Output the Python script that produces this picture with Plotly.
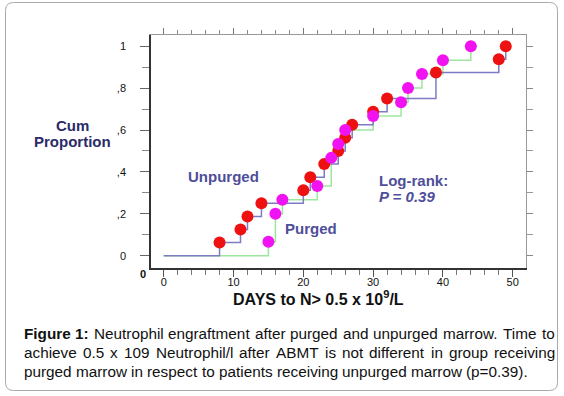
import plotly.graph_objects as go

# ---- data ----
unpurged_days = [8, 11, 12, 14, 20, 21, 23, 25, 26, 27, 30, 32, 39, 48, 49]
unpurged_prop = [0.0625, 0.125, 0.1875, 0.25, 0.3125, 0.375, 0.4375, 0.5, 0.5625,
                 0.625, 0.6875, 0.75, 0.875, 0.9375, 1.0]
purged_days = [15, 16, 17, 22, 24, 25, 26, 30, 34, 35, 37, 40, 44]
purged_prop = [0.067, 0.2, 0.267, 0.333, 0.467, 0.533, 0.6, 0.667, 0.733, 0.8,
               0.867, 0.933, 1.0]
x_tick_vals = [0, 10, 20, 30, 40, 50]
x_minor_vals = [2, 4, 6, 8, 12, 14, 16, 18, 22, 24, 26, 28, 32, 34, 36, 38, 42, 44, 46, 48]
y_tick_vals = [0, 0.2, 0.4, 0.6, 0.8, 1.0]
y_tick_text = ["0", ",2", ",4", ",6", ",8", "1"]
y_minor_vals = [0.1, 0.3, 0.5, 0.7, 0.9]

W, H = 564, 396
def px(x):
    return x / W
def py(y):
    return 1 - y / H

RED = "#ee1111"
MAG = "#f012f0"
BLUE_LINE = "#7c7cc4"
GREEN_LINE = "#9ee69e"
LABEL = "#4e4e9a"

fig = go.Figure()
fig.add_trace(go.Scatter(x=[0] + purged_days, y=[0] + purged_prop, mode="lines",
                         line=dict(color=GREEN_LINE, width=1.5, shape="hv"),
                         hoverinfo="skip", showlegend=False))
fig.add_trace(go.Scatter(x=[0] + unpurged_days, y=[0] + unpurged_prop, mode="lines",
                         line=dict(color=BLUE_LINE, width=1.5, shape="hv"),
                         hoverinfo="skip", showlegend=False))
fig.add_trace(go.Scatter(x=unpurged_days, y=unpurged_prop, mode="markers",
                         marker=dict(color=RED, size=12, line=dict(width=0)),
                         name="Unpurged", showlegend=False))
fig.add_trace(go.Scatter(x=purged_days, y=purged_prop, mode="markers",
                         marker=dict(color=MAG, size=12, line=dict(width=0)),
                         name="Purged", showlegend=False))
# helper trace for mirrored top/right axes
fig.add_trace(go.Scatter(x=[0], y=[0], xaxis="x2", yaxis="y2", mode="markers",
                         marker=dict(size=1, opacity=0),
                         showlegend=False, hoverinfo="skip"))

xr = [-1.82, 51.9]
yr = [-0.0587, 1.0535]
xdom = [151 / W, 526 / W]
ydom = [1 - 268 / H, 1 - 35 / H]
tickfont = dict(family="Liberation Sans, Arial, sans-serif", size=11, color="#111")

fig.update_layout(
    width=W, height=H,
    margin=dict(l=0, r=0, t=0, b=0),
    paper_bgcolor="white", plot_bgcolor="white",
    showlegend=False,
    xaxis=dict(domain=xdom, range=xr, showgrid=False, zeroline=False,
               showline=True, linecolor="#333", linewidth=1.5,
               ticks="outside", tickvals=x_tick_vals, ticklen=7, tickcolor="#555",
               tickfont=tickfont, ticklabelstandoff=-4,
               minor=dict(tickvals=x_minor_vals, ticks="outside", ticklen=5,
                          tickcolor="#777")),
    yaxis=dict(domain=ydom, range=yr, showgrid=False, zeroline=False,
               showline=True, linecolor="#333", linewidth=1.5,
               ticks="outside", tickvals=y_tick_vals, ticktext=y_tick_text,
               ticklen=9, tickcolor="#666", tickfont=tickfont, ticklabelstandoff=12,
               minor=dict(tickvals=y_minor_vals, ticks="outside", ticklen=7,
                          tickcolor="#888")),
    xaxis2=dict(overlaying="x", side="top", anchor="y", range=xr, showgrid=False,
                zeroline=False, showline=True, linecolor="#999", linewidth=1.2,
                ticks="outside", tickvals=x_tick_vals, ticklen=6, tickcolor="#777",
                showticklabels=False,
                minor=dict(tickvals=x_minor_vals, ticks="outside", ticklen=4,
                           tickcolor="#888")),
    yaxis2=dict(overlaying="y", side="right", anchor="x", range=yr, showgrid=False,
                zeroline=False, showline=True, linecolor="#999", linewidth=1.2,
                ticks="outside", tickvals=y_tick_vals, ticklen=6, tickcolor="#888",
                showticklabels=False,
                minor=dict(tickvals=y_minor_vals, ticks="outside", ticklen=6,
                           tickcolor="#999")),
)

FONT = "Liberation Sans, Arial, sans-serif"
ann = []
def add_text(text, x, y, size, color="#111", xanchor="center", yanchor="middle"):
    ann.append(dict(text=text, x=px(x), y=py(y), xref="paper", yref="paper",
                    showarrow=False, xanchor=xanchor, yanchor=yanchor,
                    font=dict(family=FONT, size=size, color=color)))

add_text("<b>Cum</b>", 72, 125.5, 15, "#2b2b68")
add_text("<b>Proportion</b>", 72, 141.5, 15, "#2b2b68")
add_text("<b>Unpurged</b>", 223, 176, 15, LABEL)
add_text("<b>Purged</b>", 311, 228, 15, LABEL)
add_text("<b>Log-rank:</b>", 377, 180, 15, LABEL, xanchor="left")
add_text("<b><i>P = 0.39</i></b>", 377, 196, 15, LABEL, xanchor="left")
add_text("<b>0</b>", 143, 274, 11, "#111")
add_text("<b>DAYS to N> 0.5 x 10<sup>9</sup>/L</b>", 231, 298, 16, "#111", xanchor="left")

# ---- caption, justified word by word using Arial metrics ----
REG = {' ': 278, 'a': 556, 'b': 556, 'c': 500, 'd': 556, 'e': 556, 'f': 278, 'g': 556,
       'h': 556, 'i': 222, 'j': 222, 'k': 500, 'l': 222, 'm': 833, 'n': 556, 'o': 556,
       'p': 556, 'q': 556, 'r': 333, 's': 500, 't': 278, 'u': 556, 'v': 500, 'w': 722,
       'x': 500, 'y': 500, 'z': 500, 'A': 667, 'B': 667, 'M': 833, 'N': 722, 'T': 611,
       '0': 556, '1': 556, '2': 556, '3': 556, '4': 556, '5': 556, '6': 556, '7': 556,
       '8': 556, '9': 556, '.': 278, ',': 278, ':': 278, '(': 333, ')': 333, '=': 584,
       '/': 278}
BOLD = {'F': 611, 'i': 278, 'g': 611, 'u': 611, 'r': 389, 'e': 556, ' ': 278, '1': 556,
        ':': 333}
CAP_SIZE = 15.3
def width(word, bold=False):
    table = BOLD if bold else REG
    return sum(table.get(c, 556) for c in word) * CAP_SIZE / 1000.0

caption_lines = [
    (["Figure 1:", "Neutrophil", "engraftment", "after", "purged", "and", "unpurged",
      "marrow.", "Time", "to"], True, 333),
    (["achieve", "0.5", "x", "109", "Neutrophil/l", "after", "ABMT", "is", "not",
      "different", "in", "group", "receiving"], True, 352),
    (["purged", "marrow", "in", "respect", "to", "patients", "receiving", "unpurged",
      "marrow", "(p=0.39)."], False, 371),
]
LEFT, RIGHT = 22, 553
for words, justify, ypos in caption_lines:
    widths = [width(w, bold=(w == "Figure 1:")) for w in words]
    if justify:
        gap = (RIGHT - LEFT - sum(widths)) / (len(words) - 1)
    else:
        gap = REG[' '] * CAP_SIZE / 1000.0
    xpos = LEFT
    for w, wd in zip(words, widths):
        t = "<b>" + w + "</b>" if w == "Figure 1:" else w
        add_text(t, xpos, ypos, CAP_SIZE, "#111", xanchor="left")
        xpos += wd + gap

fig.update_layout(annotations=ann)

# outer rounded frame
r = 8
x0, x1, y0, y1 = 5.5, 557.5, 2.5, 390.5
path = (f"M {px(x0 + r)} {py(y0)} L {px(x1 - r)} {py(y0)} "
        f"Q {px(x1)} {py(y0)} {px(x1)} {py(y0 + r)} L {px(x1)} {py(y1 - r)} "
        f"Q {px(x1)} {py(y1)} {px(x1 - r)} {py(y1)} L {px(x0 + r)} {py(y1)} "
        f"Q {px(x0)} {py(y1)} {px(x0)} {py(y1 - r)} L {px(x0)} {py(y0 + r)} "
        f"Q {px(x0)} {py(y0)} {px(x0 + r)} {py(y0)} Z")
fig.add_shape(type="path", path=path, xref="paper", yref="paper",
              line=dict(color="#aaaaaa", width=1))

fig.write_html("out.html", config={"displayModeBar": False},
               post_script="document.body.style.margin='0';document.body.style.overflow='hidden';")
